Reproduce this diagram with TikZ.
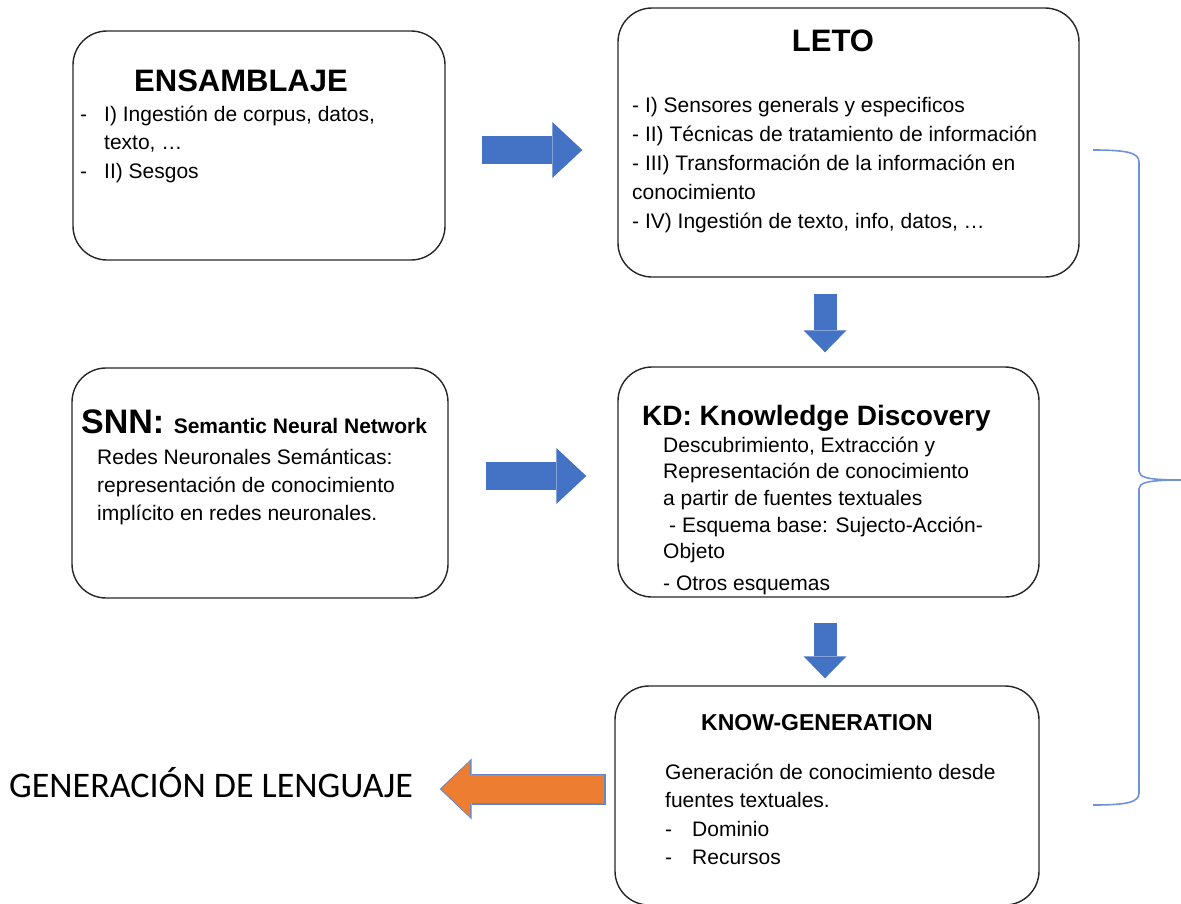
\documentclass[tikz,border=0pt]{standalone}
\usepackage{fontspec}
\setmainfont{Liberation Sans}
\newfontfamily\calibrifont{Carlito}
\usetikzlibrary{arrows.meta}
\definecolor{arrowblue}{HTML}{4472C4}
\definecolor{arroworange}{HTML}{ED7D31}
\definecolor{bracecolor}{HTML}{6F93D6}

\begin{document}
\begin{tikzpicture}[x=1pt, y=-1pt,
    roundbox/.style={draw=black!85, line width=1.4pt, rounded corners=34pt},
    boxtitle/.style={font=\bfseries\fontsize{31}{31}\selectfont, inner sep=0pt, anchor=base},
    bodytext/.style={inner sep=0pt, anchor=base west},
    bluearrow/.style={draw=arrowblue, line width=28pt, -{Triangle[length=30pt,width=56pt,line width=0pt]}},
    downarrow/.style={draw=arrowblue, line width=23pt, -{Triangle[length=22pt,width=43pt,line width=0pt]}},
    orangeedge/.style={draw=arrowblue!85, line width=31pt, -{Triangle[length=32pt,width=61pt,line width=0pt]}},
    orangearrow/.style={draw=arroworange, line width=28pt, -{Triangle[length=29pt,width=56pt,line width=0pt]}},
    bracestroke/.style={draw=bracecolor, line width=1.6pt}]

    % Fix the size of the picture (pixels of the reference)
    \useasboundingbox (0,0) rectangle (1181,903);

    % The five rounded boxes
    \node[roundbox, minimum width=372pt, minimum height=229pt] (ens) at (259,145.5) {};
    \node[roundbox, minimum width=461pt, minimum height=269pt] (leto) at (848.5,142.5) {};
    \node[roundbox, minimum width=376pt, minimum height=230pt] (snn) at (260,483) {};
    \node[roundbox, minimum width=421pt, minimum height=230pt] (kd) at (828.5,482) {};
    \node[roundbox, minimum width=424pt, minimum height=219pt] (know) at (827,795.5) {};

    % ENSAMBLAJE
    \node[boxtitle] (ens-title) at (241,91) {ENSAMBLAJE};
    \node[bodytext, font=\fontsize{21}{28.5}\selectfont] (ens-list) at (80,121) {\begin{tabular}[t]{@{}l@{}}
        \makebox[24pt][l]{-}I) Ingestión de corpus, datos,\\
        \hspace{24pt}texto, …\\
        \makebox[24pt][l]{-}II) Sesgos
    \end{tabular}};

    % LETO
    \node[boxtitle] (leto-title) at (833,51) {LETO};
    \node[bodytext, font=\fontsize{21}{29}\selectfont] (leto-list) at (632,112) {\begin{tabular}[t]{@{}l@{}}
        - I) Sensores generals y especificos\\
        - II) Técnicas de tratamiento de información\\
        - III) Transformación de la información en\\
        conocimiento\\
        - IV) Ingestión de texto, info, datos, …
    \end{tabular}};

    % SNN
    \node[bodytext] (snn-title) at (81,433) {\bfseries\fontsize{34}{34}\selectfont SNN: \fontsize{21}{21}\selectfont Semantic Neural Network};
    \node[bodytext, font=\fontsize{21}{28}\selectfont] (snn-text) at (97,464) {\begin{tabular}[t]{@{}l@{}}
        Redes Neuronales Semánticas:\\
        representación de conocimiento\\
        implícito en redes neuronales.
    \end{tabular}};

    % KD
    \node[bodytext, font=\bfseries\fontsize{28}{28}\selectfont] (kd-title) at (642,425) {KD: Knowledge Discovery};
    \node[bodytext, font=\fontsize{21}{26.7}\selectfont] (kd-text) at (663,452) {\begin{tabular}[t]{@{}l@{}}
        Descubrimiento, Extracción y\\
        Representación de conocimiento\\
        a partir de fuentes textuales\\
        \hspace{6pt}- Esquema base: Sujecto-Acción-\\
        Objeto\\[5pt]
        - Otros esquemas
    \end{tabular}};

    % KNOW-GENERATION
    \node[boxtitle, font=\bfseries\fontsize{23}{23}\selectfont] (know-title) at (817,730) {KNOW-GENERATION};
    \node[bodytext, font=\fontsize{21}{28.5}\selectfont] (know-text) at (665,779) {\begin{tabular}[t]{@{}l@{}}
        Generación de conocimiento desde\\
        fuentes textuales.\\
        \makebox[27pt][l]{-}Dominio\\
        \makebox[27pt][l]{-}Recursos
    \end{tabular}};

    % Output text on the left
    \node[bodytext, font=\calibrifont\fontsize{36}{36}\selectfont] (gen) at (9,797) {GENERACIÓN DE LENGUAJE};

    % Block arrows between the boxes
    \coordinate (a1s) at ([yshift=-4.5pt]ens.east);
    \draw[bluearrow, shorten <=36pt, shorten >=35pt] (a1s) -- (a1s -| leto.west);
    \coordinate (a2s) at ([yshift=7pt]snn.east);
    \draw[bluearrow, shorten <=37pt, shorten >=31pt] (a2s) -- (a2s -| kd.west);
    \coordinate (a3s) at ([xshift=-23.5pt]leto.south);
    \draw[downarrow, shorten <=16pt, shorten >=14pt] (a3s) -- (a3s |- kd.north);
    \coordinate (a4s) at ([xshift=-3.5pt]kd.south);
    \draw[downarrow, shorten <=25pt, shorten >=7pt] (a4s) -- (a4s |- know.north);
    % orange arrow, drawn twice for its blue rim
    \coordinate (a5s) at ([yshift=6.5pt]know.west);
    \draw[orangeedge, shorten <=8.5pt, shorten >=26.5pt] (a5s) -- (a5s -| gen.east);
    \draw[orangearrow, shorten <=10pt, shorten >=28pt] (a5s) -- (a5s -| gen.east);

    % Brace on the right
    \coordinate (brtop) at (1093,150);
    \coordinate (brbot) at (1093,805);
    \coordinate (brtip) at (1181,480);
    \draw[bracestroke] (brtop) .. controls (1128,150) and (1139,153) .. (1139,162) -- (1139,471) .. controls (1139,477) and (1146,480) .. (brtip);
    \draw[bracestroke] (brbot) .. controls (1128,805) and (1139,802) .. (1139,793) -- (1139,489) .. controls (1139,483) and (1146,480) .. (brtip);

\end{tikzpicture}
\end{document}
